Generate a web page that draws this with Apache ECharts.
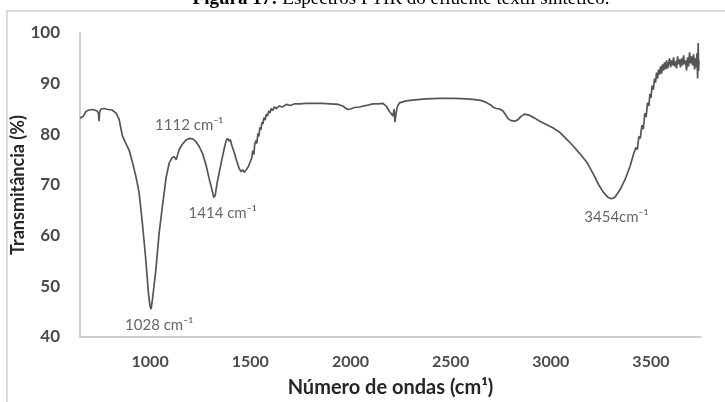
<!DOCTYPE html>
<html>
<head>
<meta charset="utf-8">
<script src="https://cdn.jsdelivr.net/npm/echarts@6/dist/echarts.min.js"></script>
<style>html,body{margin:0;padding:0;background:#fff;}#c{width:725px;height:402px;}</style>
</head>
<body>
<div id="c"></div>
<script>
// Wavenumber axis values (as plotted) and transmittance (%)
const wavenumber = [650,665,680,695,715,735,742,745,748,755,770,790,810,830,845,861,875,895,915,930,945,960,978,992,1000,1005,1012,1028,1045,1062,1080,1095,1110,1120,1130,1137,1145,1160,1180,1195,1212,1228,1245,1262,1280,1295,1308,1318,1325,1335,1345,1358,1370,1380,1387,1395,1400,1408,1420,1432,1445,1455,1462,1470,1480,1490,1500,1508,1512,1518,1522,1528,1533,1538,1543,1548,1553,1558,1563,1568,1574,1580,1586,1592,1598,1605,1612,1620,1630,1645,1660,1680,1700,1720,1745,1780,1820,1860,1900,1940,1962,1975,1987,2000,2020,2045,2080,2112,2140,2162,2180,2195,2205,2212,2218,2222,2228,2235,2245,2278,2320,2380,2445,2520,2580,2612,2650,2678,2700,2715,2728,2745,2762,2775,2790,2803,2820,2837,2850,2870,2890,2920,2945,2980,3010,3045,3080,3110,3145,3180,3212,3240,3262,3285,3303,3320,3345,3370,3395,3415,3425,3432,3440,3447,3455,3462,3470,3476,3483,3490,3495,3500,3506,3512,3518,3523,3528,3533,3538,3543,3548,3553,3558,3563,3568,3573,3578,3583,3588,3593,3598,3603,3608,3613,3618,3623,3628,3633,3638,3643,3648,3653,3658,3663,3668,3673,3678,3683,3688,3693,3698,3703,3708,3713,3718,3722,3726,3730,3733,3736,3738,3740];
const transmittance = [83.2,83.5,84.5,84.8,84.9,84.6,84.2,82.6,84.4,85.0,85.1,84.9,84.8,84.2,83.0,79.8,78.5,76.9,74.0,71.5,68.5,63.0,55.5,48.5,46.0,45.5,47.5,53.0,60.5,66.0,71.5,74.3,75.4,75.6,75.0,75.9,77.0,78.0,78.9,79.2,79.1,78.6,77.6,76.2,73.8,71.2,69.2,67.5,68.0,70.5,72.5,75.0,77.2,78.8,79.2,78.6,79.0,77.8,76.4,74.8,73.2,72.6,73.0,72.5,73.0,73.6,74.6,75.4,76.8,76.0,78.0,78.8,78.2,80.2,79.6,81.4,80.9,82.4,82.0,83.3,82.8,84.0,83.6,84.6,84.2,85.1,84.7,85.4,85.1,85.6,85.4,85.9,85.7,86.0,86.0,86.1,86.1,86.1,86.0,85.9,85.6,85.2,84.9,85.0,85.3,85.4,85.7,86.0,86.0,86.1,85.5,84.5,84.0,83.6,85.0,82.4,84.2,85.6,86.2,86.6,86.8,87.0,87.1,87.1,87.0,86.9,86.7,86.3,85.8,85.3,85.1,85.0,84.6,83.8,83.0,82.7,82.6,82.9,83.5,84.0,83.8,83.2,82.6,81.9,81.3,80.4,79.0,77.8,76.2,74.5,72.2,70.0,68.6,67.6,67.3,67.6,69.0,71.0,73.6,76.3,77.4,77.0,79.6,79.2,81.8,81.0,84.2,83.4,86.2,85.6,88.0,87.2,89.6,88.8,91.0,90.2,92.2,91.0,92.8,91.8,93.4,92.0,93.8,92.6,94.2,92.8,94.6,93.0,94.0,95.0,93.2,94.6,93.6,95.2,93.4,94.4,93.0,95.4,93.8,94.8,93.2,95.0,93.6,95.6,93.8,94.6,92.6,95.2,93.4,96.2,94.0,95.4,93.6,95.8,92.8,95.0,93.2,96.0,91.0,98.0,92.5,94.6];
// Peak annotations: label text and the chart position where it sits
const peakLabels = ['1028 cm⁻¹', '1112 cm⁻¹', '1414 cm⁻¹', '3454cm⁻¹'];
const peakLabelX = [1045, 1195, 1362, 3328];
const peakLabelY = [42.4, 81.8, 64.4, 63.7];
const yTicks = [40, 50, 60, 70, 80, 90, 100];
const xTickStep = 500;

const chart = echarts.init(document.getElementById('c'), null, {renderer: 'canvas'});
const lineData = wavenumber.map((w, i) => [w, transmittance[i]]);
const annData = peakLabels.map((t, i) => ({value: [peakLabelX[i], peakLabelY[i]], name: t}));
const FONT = 'Lato';
chart.setOption({
  animation: false,
  backgroundColor: '#fff',
  graphic: [
    {type: 'rect', shape: {x: 7, y: 11, width: 800, height: 500}, style: {fill: 'none', stroke: '#cfcfcf', lineWidth: 1.5}, z: -1},
    {type: 'text', x: 401, y: -1, style: {
      text: '{b|Figura 17:} Espectros FTIR do efluente têxtil sintético.',
      rich: {b: {fontWeight: 'bold', fontFamily: 'Liberation Serif', fontSize: 19, fill: '#000'}},
      fontFamily: 'Liberation Serif', fontSize: 19, fill: '#000', verticalAlign: 'middle', align: 'center'}}
  ],
  grid: {left: 80, right: 24, top: 33, bottom: 65, containLabel: false, outerBoundsMode: 'none'},
  xAxis: {
    type: 'value', min: 650, max: 3750, interval: 50,
    name: 'Número de ondas (cm¹)', nameLocation: 'middle', nameGap: 41, nameMoveOverlap: false,
    nameTextStyle: {fontFamily: FONT, fontWeight: 'bold', fontSize: 20, color: '#262626'},
    axisLine: {show: true, lineStyle: {color: '#c0c0c0', width: 1.5}},
    axisTick: {show: false}, splitLine: {show: false},
    axisLabel: {fontFamily: FONT, fontSize: 16, color: '#4a4a4a', margin: 17, showMinLabel: false, showMaxLabel: false, fontWeight: 'bold',
      formatter: v => (v % xTickStep === 0 ? String(v) : '')}
  },
  yAxis: {
    type: 'value', min: yTicks[0], max: yTicks[yTicks.length - 1], interval: 10,
    name: 'Transmitância (%)', nameLocation: 'middle', nameGap: 53, nameRotate: 90, nameMoveOverlap: false,
    nameTextStyle: {fontFamily: FONT, fontWeight: 'bold', fontSize: 18, color: '#262626'},
    axisLine: {show: true, lineStyle: {color: '#c0c0c0', width: 1.5}},
    axisTick: {show: false}, splitLine: {show: false},
    axisLabel: {fontFamily: FONT, fontSize: 17, color: '#4a4a4a', margin: 20, fontWeight: 'bold'}
  },
  series: [
    {type: 'line', data: lineData, showSymbol: false, symbol: 'none',
      lineStyle: {color: '#555555', width: 1.7}, z: 3},
    {type: 'scatter', data: annData, symbolSize: 0, silent: true,
      label: {show: true, position: 'inside', formatter: p => p.name, fontFamily: FONT, fontSize: 15, color: '#404040'}, z: 4}
  ]
});
</script>
</body>
</html>
